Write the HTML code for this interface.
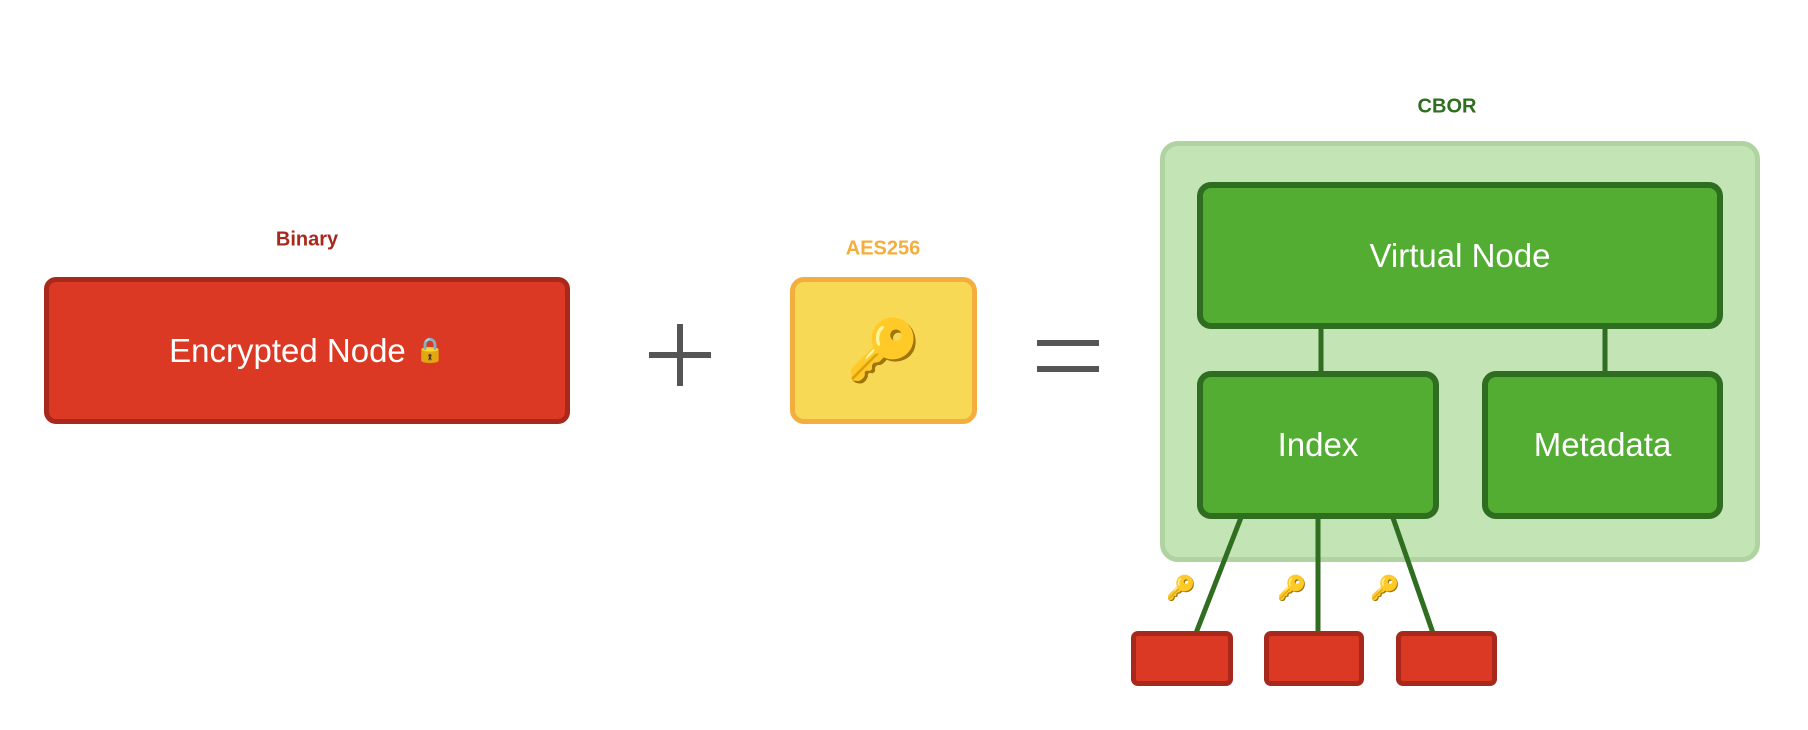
<!DOCTYPE html>
<html><head><meta charset="utf-8"><style>
body{margin:0;width:1808px;height:730px;background:#fff;position:relative;font-family:"Liberation Sans",sans-serif;overflow:hidden}
.b{position:absolute;box-sizing:border-box;display:flex;align-items:center;justify-content:center;color:#fff;font-size:33px}
.lbl{position:absolute;font-weight:bold;font-size:20px;transform:translate(-50%,-50%)}
.red{background:#db3924;border:5px solid #a8281b;border-radius:12px}
.grn{background:#53ad33;border:6px solid #2f6e20;border-radius:14px}
</style></head><body>
<div class="lbl" style="left:307px;top:240px;color:#a8281b">Binary</div>
<div class="b red" style="left:44px;top:277px;width:526px;height:147px">Encrypted Node&nbsp;<span style="font-size:24px">🔒</span></div>
<div style="position:absolute;left:649px;top:352px;width:62px;height:6px;background:#555"></div>
<div style="position:absolute;left:677px;top:324px;width:6px;height:62px;background:#555"></div>
<div class="lbl" style="left:883px;top:249px;color:#f3ae3d">AES256</div>
<div class="b" style="left:790px;top:277px;width:187px;height:147px;background:#f7d955;border:5px solid #f3ae3d;border-radius:14px;font-size:60px">🔑</div>
<div style="position:absolute;left:1037px;top:340px;width:62px;height:6px;background:#555"></div>
<div style="position:absolute;left:1037px;top:366px;width:62px;height:6px;background:#555"></div>
<div class="lbl" style="left:1447px;top:107px;color:#2f6e20">CBOR</div>
<div style="position:absolute;left:1160px;top:141px;width:600px;height:421px;box-sizing:border-box;background:#c3e4b4;border:5px solid #afd3a1;border-radius:18px"></div>
<svg style="position:absolute;left:0;top:0" width="1808" height="730">
<g stroke="#2f6e20" stroke-width="5">
<line x1="1321" y1="325" x2="1321" y2="375"/>
<line x1="1605" y1="325" x2="1605" y2="375"/>
<line x1="1242" y1="515" x2="1196" y2="633"/>
<line x1="1318" y1="515" x2="1318" y2="633"/>
<line x1="1392" y1="515" x2="1433" y2="633"/>
</g></svg>
<div class="b grn" style="left:1197px;top:182px;width:526px;height:147px">Virtual Node</div>
<div class="b grn" style="left:1197px;top:371px;width:242px;height:148px">Index</div>
<div class="b grn" style="left:1482px;top:371px;width:241px;height:148px">Metadata</div>
<div style="position:absolute;left:1166px;top:574px;font-size:24px">🔑</div>
<div style="position:absolute;left:1277px;top:574px;font-size:24px">🔑</div>
<div style="position:absolute;left:1370px;top:574px;font-size:24px">🔑</div>
<div class="b red" style="left:1131px;top:631px;width:102px;height:55px;border-radius:7px"></div>
<div class="b red" style="left:1264px;top:631px;width:100px;height:55px;border-radius:7px"></div>
<div class="b red" style="left:1396px;top:631px;width:101px;height:55px;border-radius:7px"></div>
</body></html>
